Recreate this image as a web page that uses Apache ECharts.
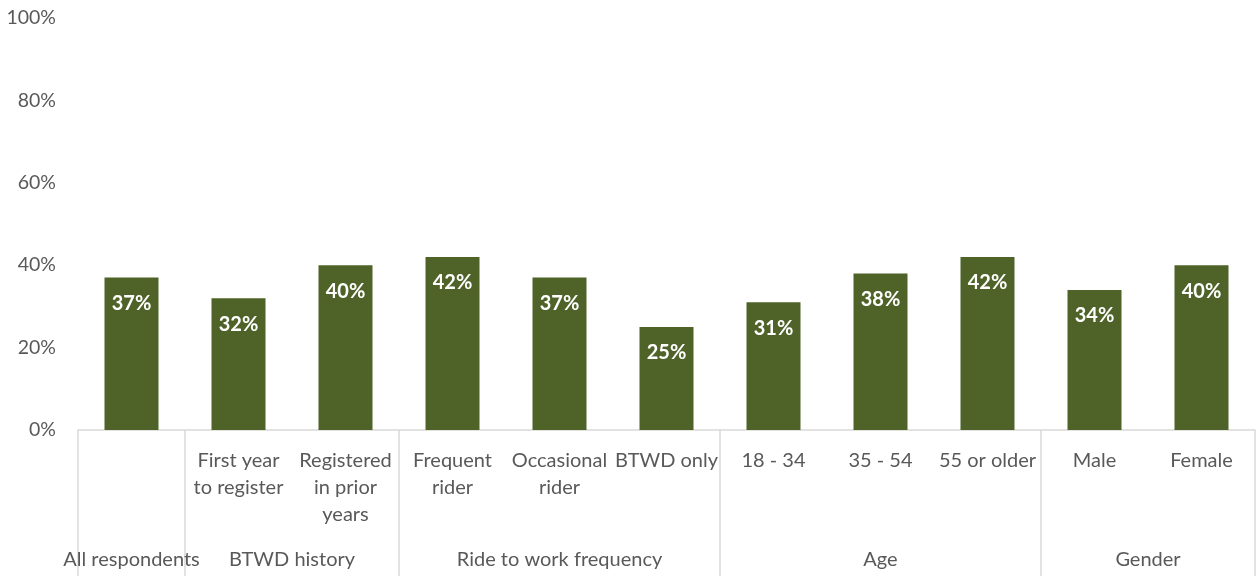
<!DOCTYPE html>
<html>
<head>
<meta charset="utf-8">
<script src="https://cdn.jsdelivr.net/npm/echarts@6/dist/echarts.min.js"></script>
<style>
  html, body { margin: 0; padding: 0; background: #fff; }
  #chart { width: 1257px; height: 576px; }
</style>
</head>
<body>
<div id="chart"></div>
<script>
// Sub-category labels (first axis level)
const categories = [
  '', 'First year\nto register', 'Registered\nin prior\nyears',
  'Frequent\nrider', 'Occasional\nrider', 'BTWD only',
  '18 - 34', '35 - 54', '55 or older',
  'Male', 'Female'
];
// Share of respondents, percent
const values = [37, 32, 40, 42, 37, 25, 31, 38, 42, 34, 40];
// Group labels (second axis level) and how many categories each spans
const groups = ['All respondents', 'BTWD history', 'Ride to work frequency', 'Age', 'Gender'];
const groupSizes = [1, 2, 3, 3, 2];
const yTicks = [0, 20, 40, 60, 80, 100];

// Group boundaries and centres in category units
const bounds = [0];
groupSizes.forEach(s => bounds.push(bounds[bounds.length - 1] + s));
const centers = groupSizes.map((s, i) => bounds[i] + s / 2);

const FONT = 'Lato';
const GREY = '#595959';
const LINE = '#D9D9D9';

const chart = echarts.init(document.getElementById('chart'), null, { renderer: 'canvas' });
chart.setOption({
  animation: false,
  grid: { left: 78, right: 2, top: 18, bottom: 146, containLabel: false },
  xAxis: [
    {
      type: 'category',
      data: categories,
      position: 'bottom',
      axisLine: { show: false },
      axisTick: { show: false },
      axisLabel: {
        interval: 0,
        color: GREY,
        fontFamily: FONT,
        fontSize: 20,
        lineHeight: 27,
        margin: 17,
        verticalAlign: 'top'
      }
    },
    {
      type: 'value',
      min: 0,
      max: categories.length,
      position: 'bottom',
      splitLine: { show: false },
      axisLine: { show: true, lineStyle: { color: LINE, width: 1.5 } },
      axisTick: {
        show: true,
        customValues: bounds,
        length: 146,
        lineStyle: { color: LINE, width: 1.5 }
      },
      axisLabel: {
        customValues: centers,
        color: GREY,
        fontFamily: FONT,
        fontSize: 20,
        margin: 120,
        formatter: v => {
          const i = centers.findIndex(c => Math.abs(c - v) < 1e-6);
          return i >= 0 ? groups[i] : '';
        }
      }
    }
  ],
  yAxis: {
    type: 'value',
    min: yTicks[0],
    max: yTicks[yTicks.length - 1],
    interval: 20,
    axisLine: { show: false },
    axisTick: { show: false },
    splitLine: { show: false },
    axisLabel: {
      color: GREY,
      fontFamily: FONT,
      fontSize: 19.5,
      margin: 22,
      formatter: v => v + '%'
    }
  },
  series: [{
    type: 'bar',
    xAxisIndex: 0,
    data: values,
    barWidth: 54,
    itemStyle: { color: '#4F6228' },
    label: {
      show: true,
      position: 'insideTop',
      distance: 16,
      color: '#fff',
      fontFamily: FONT,
      fontWeight: 'bold',
      fontSize: 20,
      formatter: p => p.value + '%'
    }
  }]
});
</script>
</body>
</html>
